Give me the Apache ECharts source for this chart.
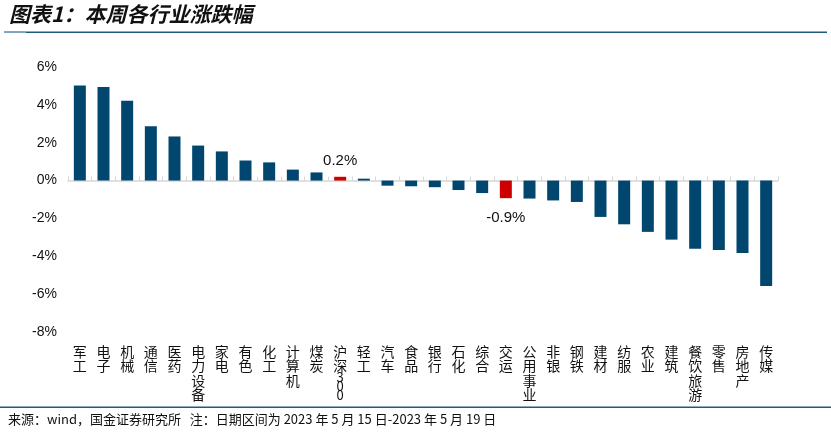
<!DOCTYPE html>
<html><head><meta charset="utf-8">
<script src="https://cdn.jsdelivr.net/npm/echarts@6/dist/echarts.min.js"></script>
<style>html,body{margin:0;padding:0;background:#fff}#c{width:831px;height:436px}</style>
</head><body><div id="c"></div>
<script>
const categories = ['军工','电子','机械','通信','医药','电力设备','家电','有色','化工','计算机','煤炭','沪深300','轻工','汽车','食品','银行','石化','综合','交运','公用事业','非银','钢铁','建材','纺服','农业','建筑','餐饮旅游','零售','房地产','传媒'];
const values = [5.02, 4.94, 4.22, 2.87, 2.33, 1.85, 1.54, 1.06, 0.96, 0.58, 0.43, 0.20, 0.10, -0.27, -0.30, -0.35, -0.50, -0.66, -0.93, -0.95, -1.05, -1.13, -1.92, -2.31, -2.71, -3.12, -3.60, -3.67, -3.83, -5.57];
const highlighted = ['沪深300','交运'];
const yMin = -8, yMax = 6, yStep = 2;
const titleText = '图表1：本周各行业涨跌幅';
const sourceText = '来源：wind，国金证券研究所   注：日期区间为 2023 年 5 月 15 日-2023 年 5 月 19 日';

const BLUE = '#00466f', RED = '#cc0000';
const FONT = '"Noto Sans CJK SC", "Noto Sans", sans-serif';

const seriesData = values.map((v, i) => {
  const hi = highlighted.includes(categories[i]);
  const item = { value: v, itemStyle: { color: hi ? RED : BLUE } };
  if (hi) {
    item.label = {
      show: true,
      position: v >= 0 ? 'top' : 'bottom',
      distance: v >= 0 ? 8 : 12,
      formatter: p => p.value.toFixed(1) + '%',
      fontSize: 15, color: '#111', fontFamily: 'Arial, "Liberation Sans", sans-serif'
    };
  }
  return item;
});

function vertLabel(s) {
  return s.split('').map(ch => /[0-9]/.test(ch) ? '{d|' + ch + '}' : '{c|' + ch + '}').join('\n');
}

const chart = echarts.init(document.getElementById('c'));
chart.setOption({
  animation: false,
  backgroundColor: '#fff',
  grid: { left: 68, right: 53, top: 67, bottom: 104, show: false },
  xAxis: [{
    type: 'category', data: categories, position: 'bottom',
    axisLine: { show: false, onZero: false }, axisTick: { show: false }, splitLine: { show: false },
    axisLabel: {
      interval: 0, margin: 12, formatter: vertLabel,
      rich: {
        c: { fontSize: 14, lineHeight: 14.5, color: '#111', fontFamily: FONT },
        d: { fontSize: 13, lineHeight: 9, color: '#111', fontFamily: FONT }
      }
    }
  }, {
    type: 'category', data: categories, position: 'bottom',
    axisLine: { show: true, onZero: true, lineStyle: { color: '#d6d6d6', width: 1.5 } },
    axisTick: { show: true, inside: true, interval: 0, length: 4, lineStyle: { color: '#d6d6d6' } },
    splitLine: { show: false },
    axisLabel: { show: false }
  }],
  yAxis: {
    type: 'value', min: yMin, max: yMax, interval: yStep,
    splitLine: { show: false }, axisLine: { show: false, onZero: false }, axisTick: { show: false },
    axisLabel: { formatter: v => v + '%', fontSize: 14, color: '#111', margin: 11, fontFamily: 'Arial, "Liberation Sans", sans-serif' }
  },
  series: [{ type: 'bar', xAxisIndex: 0, data: seriesData, barWidth: 12 }],
  graphic: [
    { type: 'text', left: 9, top: 4, style: { text: titleText, fontSize: 21, fontWeight: 'bold', fontStyle: 'italic', fill: '#111', fontFamily: FONT } },
    { type: 'rect', shape: { x: 4, y: 31.5, width: 823, height: 1.5 }, style: { fill: '#1e5a7d' } },
    { type: 'rect', shape: { x: 4, y: 31.5, width: 22, height: 1.5 }, style: { fill: '#7da3bd' } },
    { type: 'rect', shape: { x: 0, y: 406.5, width: 831, height: 1.5 }, style: { fill: '#1e5a7d' } },
    { type: 'text', left: 8, top: 413, style: { text: sourceText, fontSize: 13, fill: '#111', fontFamily: FONT } }
  ]
});
</script></body></html>
